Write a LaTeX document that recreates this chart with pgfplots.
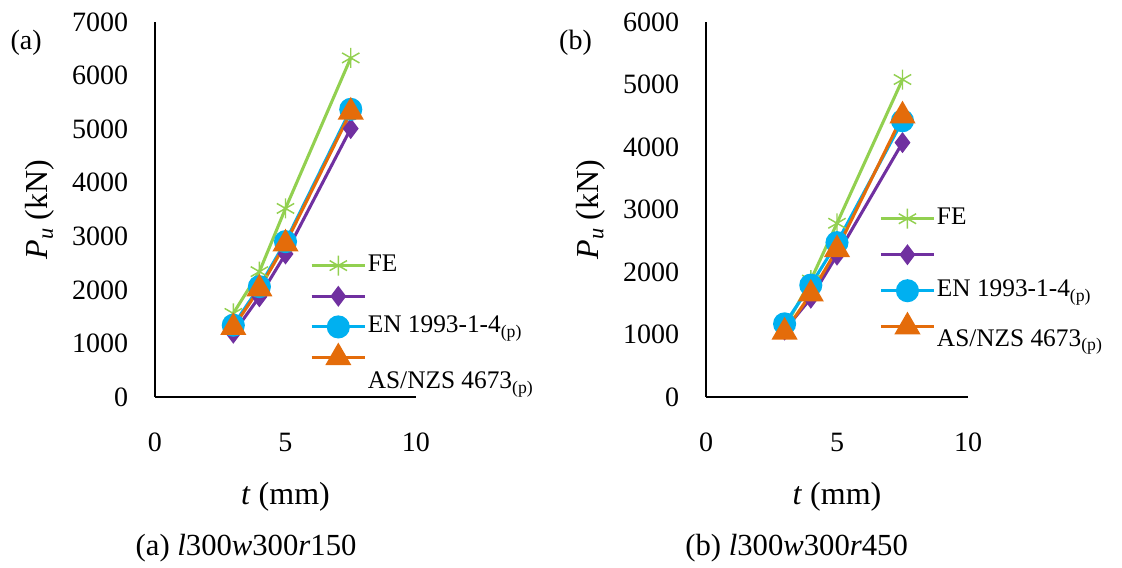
\documentclass[border=0pt]{standalone}
\usepackage{fontspec}
\setmainfont{Liberation Serif}
\usepackage{pgfplots}
\pgfplotsset{compat=1.18}
\definecolor{feg}{HTML}{92D050}
\definecolor{dsm}{HTML}{7030A0}
\definecolor{enb}{HTML}{00B0F0}
\definecolor{aso}{HTML}{E46C0A}
\pgfplotsset{
  myaxis/.style={
    scale only axis, height=281.25pt,
    axis lines=left, axis line style={line width=1.1pt,-,black},
    xmin=0, xmax=10, xtick={0,5,10}, ymin=0,
    major tick length=0pt,
    clip=false,
    tick label style={font=\fontsize{21}{25}\selectfont},
    /pgf/number format/assume math mode=true,
    /pgf/number format/1000 sep={},
    scaled y ticks=false,
    xticklabel style={anchor=center, yshift=-33.75pt},
    yticklabel style={anchor=east, inner sep=0pt, xshift=-20pt},
    label style={font=\fontsize{24}{28}\selectfont},
    xlabel style={at={(axis description cs:0.5,-0.267)}, anchor=center},
    ylabel style={at={(axis description cs:-0.44,0.5)}, anchor=center, rotate=0},
    legend style={draw=none, fill=none, anchor=north west,
      font=\fontsize{19}{22}\selectfont, cells={anchor=west},
      nodes={inner sep=1pt, text height=13pt, text depth=4pt}},
    legend cell align=left,
    legend image code/.code={\draw[mark repeat=2,mark phase=2,##1] plot coordinates {(0pt,0pt) (20pt,0pt) (40pt,0pt)};},
  },
  fe/.style={color=feg, line width=2.3pt, mark=asterisk, mark size=7.5pt, mark options={line width=1.1pt}},
  ds/.style={color=dsm, line width=2.3pt, mark=diamond*, mark size=6pt, mark options={fill=dsm}},
  en/.style={color=enb, line width=2.3pt, mark=*, mark size=7.5pt, mark options={fill=enb}},
  as/.style={color=aso, line width=2.3pt, mark=triangle*, mark size=9pt, mark options={fill=aso}},
}
\begin{document}
\begin{tikzpicture}
\useasboundingbox (-116.25pt,-128.25pt) rectangle (725.25pt,297.75pt);
\begin{axis}[myaxis, width=195.75pt, at={(0pt,0pt)}, anchor=south west,
  ymax=7000, ytick={0,1000,...,7000},
  xlabel={\textit{t} (mm)}, ylabel={\textit{P}\textsubscript{\textit{u}} (kN)},
  legend style={at={(rel axis cs:0.578,0.392)}, row sep=4pt}]
\addplot[fe] coordinates {(3,1560) (4,2340) (5,3520) (7.5,6330)};
\addlegendentry{FE}
\addplot[ds] coordinates {(3,1190) (4,1870) (5,2670) (7.5,5010)};
\addlegendentry{}
\addplot[en] coordinates {(3,1340) (4,2060) (5,2900) (7.5,5370)};
\addlegendentry{EN 1993-1-4\textsubscript{(p)}}
\addplot[as] coordinates {(3,1300) (4,2020) (5,2860) (7.5,5320)};
\addlegendentry{\raisebox{-19pt}{AS/NZS 4673\textsubscript{(p)}}}
\node[font=\fontsize{21}{25}\selectfont] at (axis description cs:-0.494,0.944) {(a)};
\node[font=\fontsize{23}{27}\selectfont] at (axis description cs:0.349,-0.403) {(a) \textit{l}300\textit{w}300\textit{r}150};
\end{axis}
\begin{axis}[myaxis, width=196.5pt, at={(413.25pt,0pt)}, anchor=south west,
  ymax=6000, ytick={0,1000,...,6000},
  xlabel={\textit{t} (mm)}, ylabel={\textit{P}\textsubscript{\textit{u}} (kN)},
  legend style={at={(rel axis cs:0.645,0.517)}, row sep=8pt}]
\addplot[fe] coordinates {(3,1100) (4,1870) (5,2780) (7.5,5080)};
\addlegendentry{FE}
\addplot[ds] coordinates {(3,1070) (4,1580) (5,2270) (7.5,4070)};
\addlegendentry{}
\addplot[en] coordinates {(3,1170) (4,1790) (5,2470) (7.5,4420)};
\addlegendentry{EN 1993-1-4\textsubscript{(p)}}
\addplot[as] coordinates {(3,1040) (4,1650) (5,2360) (7.5,4500)};
\addlegendentry{\raisebox{-10pt}{AS/NZS 4673\textsubscript{(p)}}}
\node[font=\fontsize{21}{25}\selectfont] at (axis description cs:-0.498,0.944) {(b)};
\node[font=\fontsize{23}{27}\selectfont] at (axis description cs:0.346,-0.403) {(b) \textit{l}300\textit{w}300\textit{r}450};
\end{axis}
\end{tikzpicture}
\end{document}
